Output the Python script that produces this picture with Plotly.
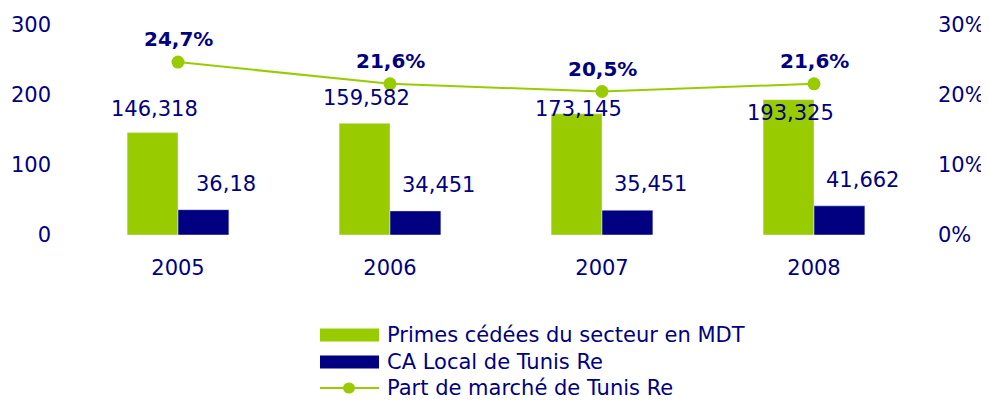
import plotly.graph_objects as go

years = ["2005", "2006", "2007", "2008"]
primes = [146.318, 159.582, 173.145, 193.325]
ca_local = [36.18, 34.451, 35.451, 41.662]
part = [0.247, 0.216, 0.205, 0.216]
primes_labels = ["146,318", "159,582", "173,145", "193,325"]
ca_labels = ["36,18", "34,451", "35,451", "41,662"]
part_labels = ["24,7%", "21,6%", "20,5%", "21,6%"]
series_names = ["Primes cédées du secteur en MDT", "CA Local de Tunis Re", "Part de marché de Tunis Re"]

GREEN = "#99CC00"
NAVY = "#000080"
FONT = "DejaVu Sans, Verdana, sans-serif"

W, H = 989, 401
OFF = 8  # page body margin
L, R, T, B = 64, 77, 17, 174
PW, PH = W - L - R, H - T - B

def px(x):
    return (x - OFF - L) / PW

def py(y):
    return (OFF + H - B - y) / PH

fig = go.Figure()
fig.add_trace(go.Bar(x=years, y=primes, name=series_names[0], marker_color=GREEN, hoverinfo="y"))
fig.add_trace(go.Bar(x=years, y=ca_local, name=series_names[1], marker_color=NAVY, hoverinfo="y"))
fig.add_trace(go.Scatter(x=years, y=part, name=series_names[2], yaxis="y2", mode="lines+markers",
                         line=dict(color=GREEN, width=2), marker=dict(color=GREEN, size=13)))

annotations = []
green_shift = [24, 25, 5, -13]
for i, y in enumerate(years):
    annotations.append(dict(x=i, y=primes[i], xref="x", yref="y", text=primes_labels[i], showarrow=False,
                            xshift=-24, yshift=green_shift[i], font=dict(size=21, color=NAVY, family=FONT)))
    annotations.append(dict(x=i, y=ca_local[i], xref="x", yref="y", text=ca_labels[i], showarrow=False,
                            xshift=48, yshift=26, font=dict(size=21, color=NAVY, family=FONT)))
    annotations.append(dict(x=i, y=part[i], xref="x", yref="y2", text="<b>" + part_labels[i] + "</b>", showarrow=False,
                            yshift=23, font=dict(size=20, color=NAVY, family=FONT)))

# manual legend
shapes = []
rows = [335, 362, 388]
x0, x1 = 320, 379
shapes.append(dict(type="rect", xref="paper", yref="paper", x0=px(x0), x1=px(x1), y0=py(rows[0] + 6.5), y1=py(rows[0] - 6.5),
                   fillcolor=GREEN, line=dict(width=0)))
shapes.append(dict(type="rect", xref="paper", yref="paper", x0=px(x0), x1=px(x1), y0=py(rows[1] + 6.5), y1=py(rows[1] - 6.5),
                   fillcolor=NAVY, line=dict(width=0)))
shapes.append(dict(type="line", xref="paper", yref="paper", x0=px(x0), x1=px(x1), y0=py(rows[2]), y1=py(rows[2]),
                   line=dict(color=GREEN, width=2)))
shapes.append(dict(type="circle", xref="paper", yref="paper", x0=px(343), x1=px(355), y0=py(rows[2] + 5.5), y1=py(rows[2] - 5.5),
                   fillcolor=GREEN, line=dict(width=0)))
for i, name in enumerate(series_names):
    annotations.append(dict(x=px(385), y=py(rows[i]), xref="paper", yref="paper", text=name, showarrow=False,
                            xanchor="left", yanchor="middle", font=dict(size=21, color=NAVY, family=FONT)))

fig.update_layout(
    width=W, height=H,
    margin=dict(l=L, r=R, t=T, b=B),
    paper_bgcolor="white", plot_bgcolor="white",
    barmode="group", bargap=0.52, bargroupgap=0,
    showlegend=False,
    font=dict(family=FONT, color=NAVY, size=21),
    xaxis=dict(type="category", range=[-0.5, 3.5], showgrid=False, showline=False, zeroline=False, ticks="",
               automargin=False, ticklabelstandoff=18, tickfont=dict(size=21, color=NAVY)),
    yaxis=dict(range=[0, 300], tickvals=[0, 100, 200, 300], showgrid=False, zeroline=False, showline=False,
               automargin=False, ticks="", ticklabelstandoff=20, tickfont=dict(size=21, color=NAVY)),
    yaxis2=dict(range=[0, 0.30], tickvals=[0, 0.1, 0.2, 0.3], tickformat=".0%", overlaying="y", side="right",
                showgrid=False, zeroline=False, showline=False, ticks="", ticklabelstandoff=17,
                automargin=False, tickfont=dict(size=21, color=NAVY)),
    annotations=annotations,
    shapes=shapes,
)

fig.write_html("out.html")
